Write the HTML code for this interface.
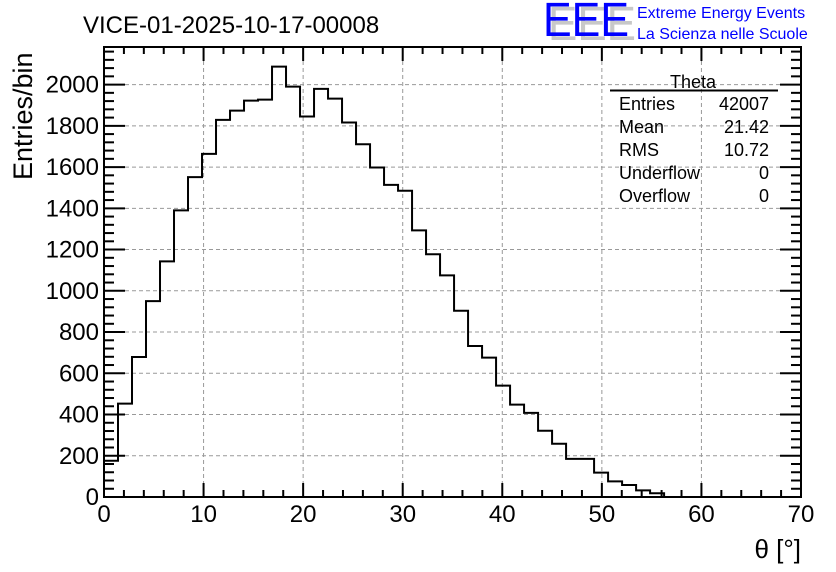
<!DOCTYPE html>
<html><head><meta charset="utf-8"><style>
html,body{margin:0;padding:0;background:#fff;}
svg{display:block;font-family:"Liberation Sans",sans-serif;}
</style></head><body>
<svg id="c" width="836" height="572" viewBox="0 0 836 572">
<rect width="836" height="572" fill="#fff"/>
<g id="grid"></g>
<g id="hist"></g>
<g id="axes"></g>
<text x="83" y="33" font-size="24">VICE-01-2025-10-17-00008</text>
<g>
<text x="548" y="40" font-size="48" fill="#c8c8c8" textLength="88" lengthAdjust="spacingAndGlyphs">EEE</text>
<text x="543" y="36" font-size="48" fill="#0000ff" textLength="86" lengthAdjust="spacingAndGlyphs">EEE</text>
<text x="637" y="18" font-size="16" fill="#0000ff">Extreme Energy Events</text>
<text x="637" y="39" font-size="16" fill="#0000ff">La Scienza nelle Scuole</text>
</g>
<g>
<text x="693" y="88" font-size="18" text-anchor="middle">Theta</text>
<line x1="610" y1="90.5" x2="778" y2="90.5" stroke="#000" stroke-width="2"/>
<text x="619" y="110" font-size="18">Entries</text><text x="769" y="110" font-size="18" text-anchor="end">42007</text>
<text x="619" y="133" font-size="18">Mean</text><text x="769" y="133" font-size="18" text-anchor="end">21.42</text>
<text x="619" y="156" font-size="18">RMS</text><text x="769" y="156" font-size="18" text-anchor="end">10.72</text>
<text x="619" y="179" font-size="18">Underflow</text><text x="769" y="179" font-size="18" text-anchor="end">0</text>
<text x="619" y="202" font-size="18">Overflow</text><text x="769" y="202" font-size="18" text-anchor="end">0</text>
</g>
<text x="801" y="558" font-size="26" text-anchor="end">θ [°]</text>
<text transform="translate(32,180) rotate(-90)" font-size="27" text-anchor="start">Entries/bin</text>
</svg>
<script>
const binWidth = 90/64;
const counts = [176,453,679,950,1143,1390,1551,1664,1829,1874,1922,1927,2087,1990,1845,1979,1932,1816,1711,1598,1514,1485,1293,1177,1075,903,732,676,540,448,408,321,258,185,185,118,76,58,32,18,0,0,0,0,0,0,0,0,0,0];
const xTicks = [0,10,20,30,40,50,60,70];
const yTicks = [0,200,400,600,800,1000,1200,1400,1600,1800,2000];
const X0=104,X1=801,Y0=497,Y1=47,XMAX=70,YMAX=(Y0-Y1)/0.2062;
const sx=v=>X0+(v/XMAX)*(X1-X0);
const sy=v=>Y0-(v/YMAX)*(Y0-Y1);
const NS="http://www.w3.org/2000/svg";
function mk(tag,attrs,parent){const e=document.createElementNS(NS,tag);for(const k in attrs)e.setAttribute(k,attrs[k]);parent.appendChild(e);return e;}
const grid=document.getElementById('grid'),hist=document.getElementById('hist'),axes=document.getElementById('axes');
xTicks.forEach(t=>{if(t>0&&t<XMAX){const l=mk('line',{x1:sx(t),x2:sx(t),y1:Y1,y2:Y0,stroke:'#999','stroke-dasharray':'4,3','stroke-width':1},grid);

}});
yTicks.forEach(t=>{if(t>0){const l=mk('line',{x1:X0,x2:X1,y1:sy(t),y2:sy(t),stroke:'#999','stroke-dasharray':'4,3','stroke-width':1},grid);

}});
let d='M'+X0+','+Y0;
counts.forEach((c,i)=>{const a=Math.min(i*binWidth,XMAX),b=Math.min((i+1)*binWidth,XMAX);if(a>=XMAX)return;d+=' L'+sx(a)+','+sy(c)+' L'+sx(b)+','+sy(c);});
const p=mk('path',{d:d,fill:'none',stroke:'#000','stroke-width':2},hist);


const fr=mk('rect',{x:X0,y:Y1,width:X1-X0,height:Y0-Y1,fill:'none',stroke:'#000','stroke-width':2},axes);


for(let v=0;v<=XMAX;v+=2){const maj=v%10===0;const L=maj?14:7;
mk('line',{x1:sx(v),x2:sx(v),y1:Y0,y2:Y0-L,stroke:'#000','stroke-width':2},axes);
mk('line',{x1:sx(v),x2:sx(v),y1:Y1,y2:Y1+L,stroke:'#000','stroke-width':2},axes);}
for(let v=0;v<=YMAX;v+=40){const maj=v%200===0;const L=maj?21:10;
mk('line',{x1:X0,x2:X0+L,y1:sy(v),y2:sy(v),stroke:'#000','stroke-width':2},axes);
mk('line',{x1:X1,x2:X1-L,y1:sy(v),y2:sy(v),stroke:'#000','stroke-width':2},axes);}
xTicks.forEach(t=>{const e=mk('text',{x:sx(t),y:522,'font-size':24,'text-anchor':'middle'},axes);e.textContent=t;

});
yTicks.forEach(t=>{const e=mk('text',{x:99,y:sy(t)+8,'font-size':24,'text-anchor':'end'},axes);e.textContent=t;

});
</script>
</body></html>
